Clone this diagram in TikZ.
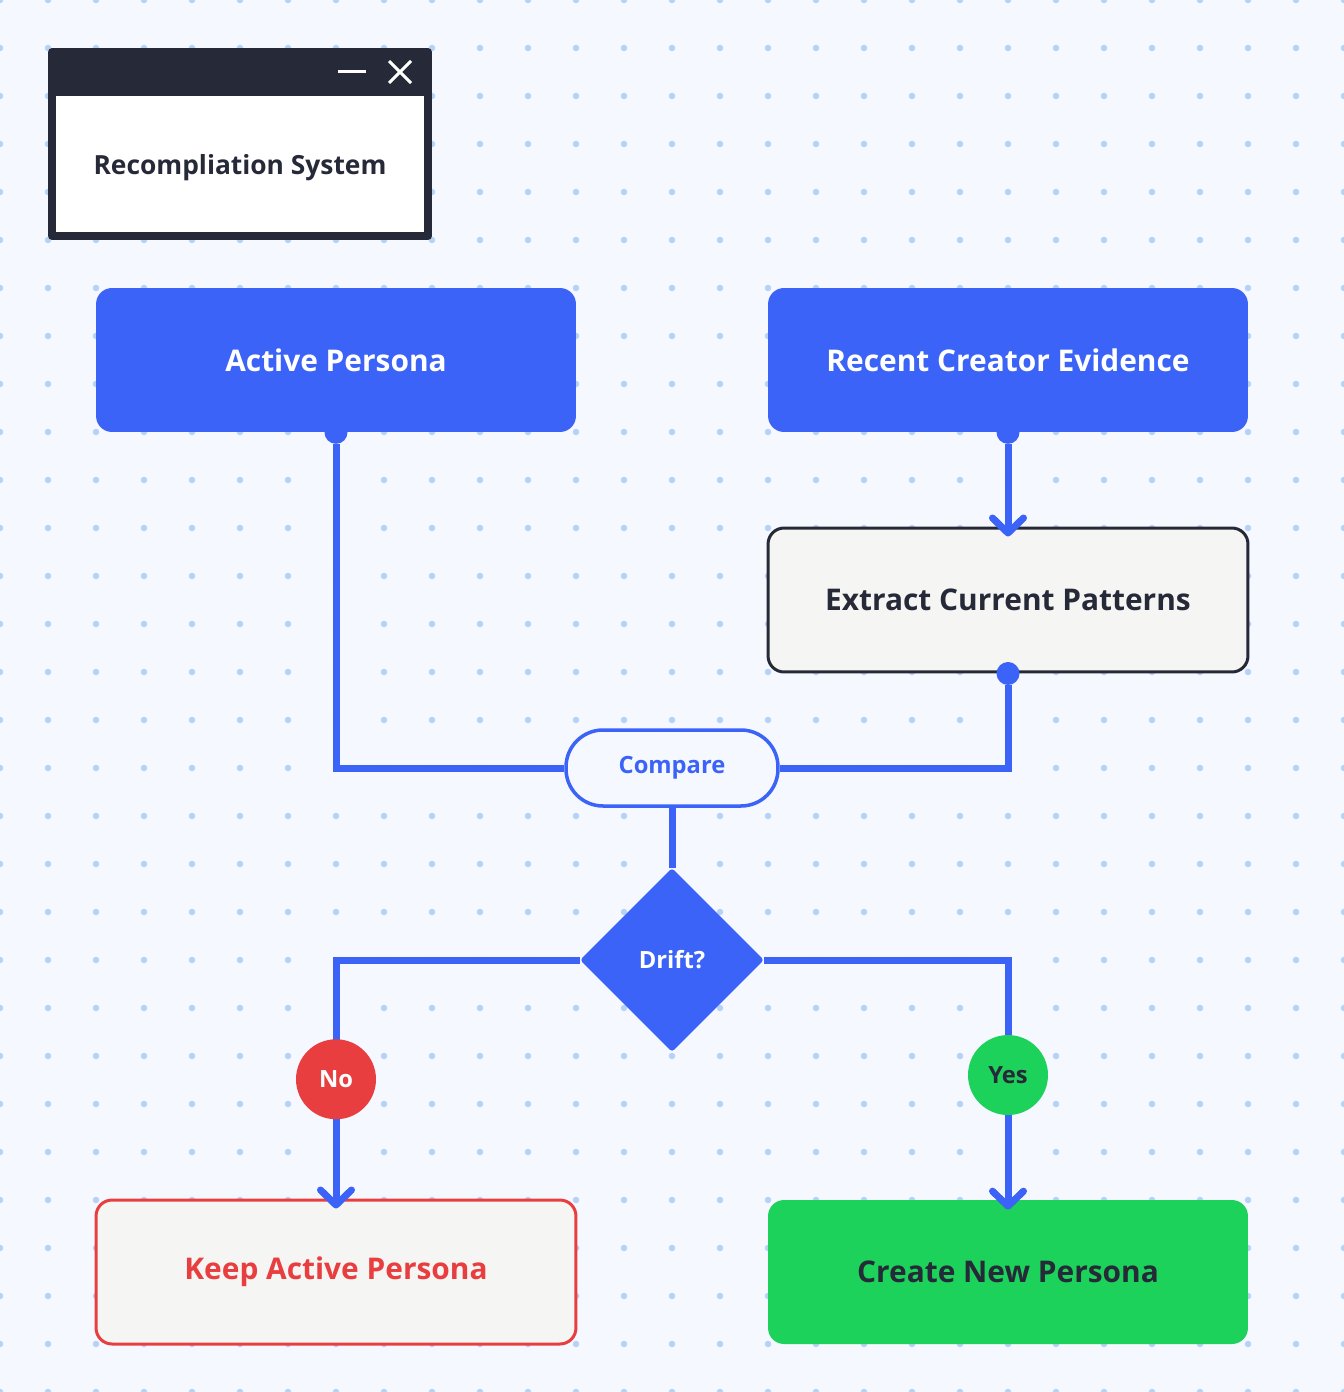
\documentclass[tikz,border=0pt]{standalone}
\usepackage{fontspec}
\setmainfont{Open Sans}
\usepackage{xcolor}
\definecolor{bgpaper}{HTML}{F5F8FE}
\definecolor{gridblue}{HTML}{B8D0FB}
\definecolor{flowblue}{HTML}{3B63F7}
\definecolor{inkdark}{HTML}{262A38}
\definecolor{paleface}{HTML}{F5F6F4}
\definecolor{okgreen}{HTML}{1CD25A}
\definecolor{alertred}{HTML}{E93E3F}
\usetikzlibrary{shapes.geometric,arrows.meta,positioning,calc}
\tikzset{
  procbox/.style={rectangle, rounded corners=0.32cm, minimum width=9.6cm,
                  minimum height=2.88cm, inner sep=0pt,
                  font=\fontsize{17}{20}\selectfont\bfseries},
  inputbox/.style={procbox, fill=flowblue, text=white},
  stepbox/.style={procbox, fill=paleface, draw=inkdark, line width=0.06cm, text=inkdark},
  keepbox/.style={procbox, fill=paleface, draw=alertred, line width=0.06cm, text=alertred},
  newbox/.style={procbox, fill=okgreen, text=inkdark},
  pill/.style={rectangle, rounded corners=0.74cm, minimum width=4.24cm,
               minimum height=1.52cm, inner sep=0pt, draw=flowblue, line width=0.07cm,
               fill=bgpaper, text=flowblue, font=\fontsize{13.5}{16}\selectfont\bfseries},
  decision/.style={diamond, fill=flowblue, minimum width=3.68cm, minimum height=3.68cm,
                   inner sep=0pt, rounded corners=0.06cm, text=white,
                   font=\fontsize{13.5}{16}\selectfont\bfseries},
  badge/.style={circle, minimum size=1.6cm, inner sep=0pt,
                font=\fontsize{13.5}{16}\selectfont\bfseries},
  port/.style={circle, fill=flowblue, minimum size=0.46cm, inner sep=0pt},
  flow/.style={line width=0.14cm, flowblue},
  flowarrow/.style={flow, -{Straight Barb[round, length=0.3cm, width=0.62cm]},
                    shorten >=-0.2cm},
}

\begin{document}
\begin{tikzpicture}[x=0.02cm, y=-0.02cm]
  % Page and dot grid
  \fill[bgpaper] (0,0) rectangle (1344,1392);
  \useasboundingbox (0,0) rectangle (1344,1392);
  \foreach \i in {0,...,28}
    \foreach \j in {0,...,29}
      \fill[gridblue] (48*\i,48*\j) circle (0.065cm);
  % Window badge
  \node[rectangle, fill=inkdark, rounded corners=0.08cm, minimum width=7.68cm,
        minimum height=3.84cm, inner sep=0pt] (win) at (240,144) {};
  \node[rectangle, fill=white, minimum width=7.36cm, minimum height=2.72cm,
        inner sep=0pt] (pane) at (240,164) {};
  \node[text=inkdark, font=\fontsize{15}{18}\selectfont\bfseries] (wintitle) at (240,168) {Recompliation System};
  \draw[white, line width=0.06cm] (338,72) -- (366,72);
  \draw[white, line width=0.06cm] (389,61) -- (411,83);
  \draw[white, line width=0.06cm] (389,83) -- (411,61);
  % Inputs
  \node[inputbox] (active) at (336,360) {Active Persona};
  \node[inputbox] (recent) at (1008,360) {Recent Creator Evidence};
  \node[stepbox] (extract) at (1008,600) {Extract Current Patterns};
  % Comparison
  \node[pill] (compare) at (672,768) {Compare};
  \node[decision] (drift) at (672,960) {Drift?};
  % Outcomes
  \node[keepbox] (keep) at (336,1272) {Keep Active Persona};
  \node[newbox] (create) at (1008,1272) {Create New Persona};
  % Ports
  \node[port] (activeport) at (active.south) {};
  \node[port] (recentport) at (recent.south) {};
  \node[port] (extractport) at (extract.south) {};
  % Connectors
  \draw[flow] (activeport) |- (compare.west);
  \draw[flowarrow] (recentport) -- (extract.north);
  \draw[flow] (extractport) |- (compare.east);
  \draw[flow] (compare) -- (drift);
  \draw[flowarrow] (drift.west) -| (keep.north)
    node[badge, fill=alertred, text=white, pos=0.75] (no) {No};
  \draw[flowarrow] (drift.east) -| (create.north)
    node[badge, fill=okgreen, text=inkdark, pos=0.74] (yes) {Yes};
\end{tikzpicture}
\end{document}
